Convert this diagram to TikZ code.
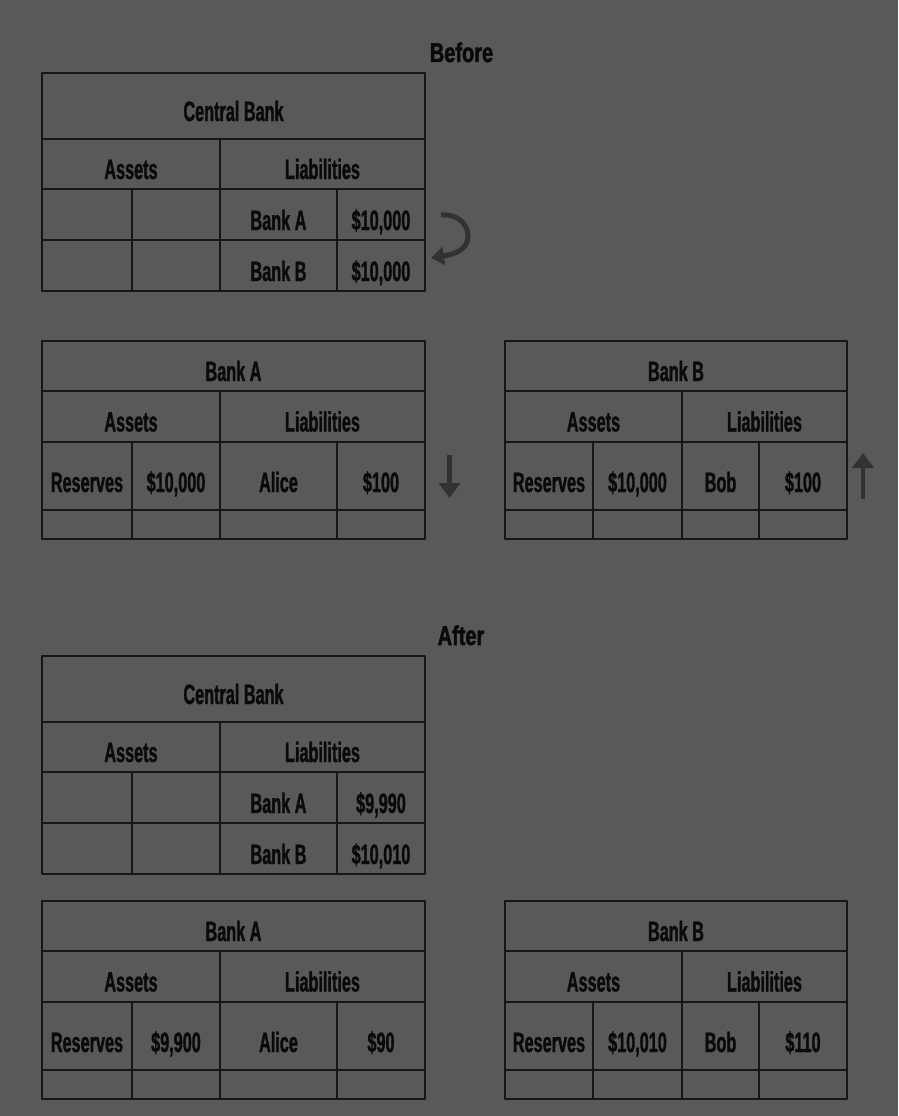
\documentclass[tikz,border=0pt]{standalone}
\usepackage{fontspec}
\usetikzlibrary{arrows.meta}
\newfontfamily\cellfont{Liberation Sans}[FakeStretch=0.58, FakeBold=1.2]
\newfontfamily\headfont{Liberation Sans}[FakeStretch=0.74, FakeBold=1.8]
\definecolor{bgcol}{RGB}{89,89,91}
\definecolor{linecol}{RGB}{22,22,22}
\definecolor{txtcol}{RGB}{10,10,10}
\definecolor{arrcol}{RGB}{50,50,52}
\tikzset{
  grid/.style={draw=linecol, line width=2.2pt, line cap=round, line join=round},
  txt/.style={font=\cellfont\bfseries\fontsize{28}{30}\selectfont, text=txtcol, anchor=base, inner sep=0pt},
  headtxt/.style={font=\headfont\bfseries\fontsize{27}{29}\selectfont, text=txtcol, anchor=base, inner sep=0pt},
  flowarrow/.style={draw=arrcol, line width=4.5pt, -{Triangle[width=21pt,length=15pt]}},
  curvearrow/.style={draw=arrcol, line width=5pt, -{Triangle[width=18pt,length=13pt]}},
}
% Central bank table: name, ytop, value A, value B
\newcommand\cbtable[4]{%
  \begin{scope}[shift={(0,#2)}]
    \draw[grid] (42,0) rectangle (425,218);
    \draw[grid] (42,66) -- (425,66) (42,116) -- (425,116) (42,167) -- (425,167);
    \draw[grid] (220,66) -- (220,218) (132,116) -- (132,218) (337,116) -- (337,218);
    \node[txt] (#1-title) at (233.5,48) {Central Bank};
    \node[txt] (#1-assets) at (131,106) {Assets};
    \node[txt] (#1-liab) at (322.5,106) {Liabilities};
    \node[txt] (#1-bankA) at (278.5,157) {Bank A};
    \node[txt] (#1-valA) at (381,157) {#3};
    \node[txt] (#1-bankB) at (278.5,208) {Bank B};
    \node[txt] (#1-valB) at (381,208) {#4};
  \end{scope}}
% Bank table: name, ytop, title, reserves, person, amount (columns from \xa..\xe)
\newcommand\banktable[6]{%
  \begin{scope}[shift={(0,#2)}]
    \draw[grid] (\xa,0) rectangle (\xe,198);
    \draw[grid] (\xa,50) -- (\xe,50) (\xa,101) -- (\xe,101) (\xa,169) -- (\xe,169);
    \draw[grid] (\xc,50) -- (\xc,198) (\xb,101) -- (\xb,198) (\xd,101) -- (\xd,198);
    \node[txt] (#1-title) at ({(\xa+\xe)/2},40) {#3};
    \node[txt] (#1-assets) at ({(\xa+\xc)/2},90.5) {Assets};
    \node[txt] (#1-liab) at ({(\xc+\xe)/2},90.5) {Liabilities};
    \node[txt] (#1-resl) at ({(\xa+\xb)/2},151) {Reserves};
    \node[txt] (#1-res) at ({(\xb+\xc)/2},151) {#4};
    \node[txt] (#1-person) at ({(\xc+\xd)/2},151) {#5};
    \node[txt] (#1-amt) at ({(\xd+\xe)/2},151) {#6};
  \end{scope}}
\newcommand\colsA{\def\xa{42}\def\xb{132}\def\xc{220}\def\xd{337}\def\xe{425}}
\newcommand\colsB{\def\xa{505}\def\xb{593}\def\xc{682}\def\xd{759}\def\xe{847}}
\begin{document}
\begin{tikzpicture}[x=1pt,y=-1pt]
  \useasboundingbox (0,0) rectangle (898,1116);
  \fill[bgcol] (0,0) rectangle (898,1116);

  \node[headtxt] (before) at (461.5,62) {Before};
  \cbtable{cb1}{73}{\$10,000}{\$10,000}
  \colsA\banktable{ba1}{341}{Bank A}{\$10,000}{Alice}{\$100}
  \colsB\banktable{bb1}{341}{Bank B}{\$10,000}{Bob}{\$100}

  \node[headtxt] (after) at (461,645) {After};
  \cbtable{cb2}{656}{\$9,990}{\$10,010}
  \colsA\banktable{ba2}{901}{Bank A}{\$9,900}{Alice}{\$90}
  \colsB\banktable{bb2}{901}{Bank B}{\$10,010}{Bob}{\$110}

  % transfer arrows
  \coordinate (cvS) at (441,215);
  \coordinate (cvM) at (468,236);
  \coordinate (cvE) at (431,258);
  \draw[curvearrow]
    (cvS) .. controls (458,214) and (468,224) .. (cvM)
          .. controls (468,249) and (456,254) .. (cvE);
  \coordinate (dnS) at (449.5,455);
  \coordinate (dnE) at (449.5,498);
  \draw[flowarrow] (dnS) -- (dnE);
  \coordinate (upS) at (863,499);
  \coordinate (upE) at (863,453);
  \draw[flowarrow] (upS) -- (upE);
\end{tikzpicture}
\end{document}
